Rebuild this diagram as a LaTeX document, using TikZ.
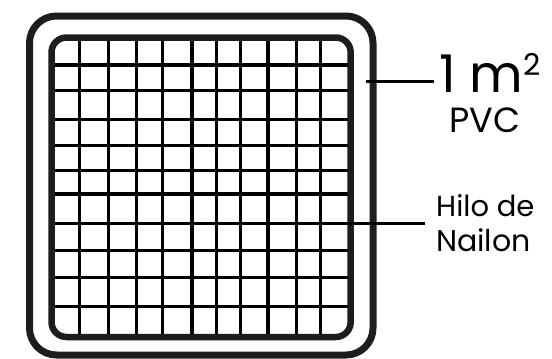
\documentclass[tikz,border=0pt]{standalone}
\usepackage{fontspec}
\setmainfont{Poppins}
\usetikzlibrary{positioning}

\definecolor{framegray}{HTML}{1D1D1B}

\tikzset{
  frame/.style={draw=framegray, rounded corners=#1},
  gridline/.style={line width=3.5pt, black},
  leader/.style={line width=3pt, black},
  label/.style={anchor=base west, inner sep=0pt}
}

\begin{document}
\begin{tikzpicture}[x=1pt,y=-1pt]
\useasboundingbox (0,0) rectangle (552,359);

% nylon grid:
\foreach \gx in {79.3,108.7,136.7,162.7,192,216.7,240.7,268,296.7,320.7}
  \draw[gridline] (\gx,37.5) -- (\gx,337);
\foreach \gy in {65,90.7,119.3,145.3,170.7,194,223.3,250.3,277.3,306.3}
  \draw[gridline] (51.5,\gy) -- (350.7,\gy);

% frames:
\draw[frame=15pt, line width=6.5pt] (51.5,37.5) rectangle (350.7,337);
\draw[frame=27pt, line width=7pt] (29.5,16) rectangle (373,355);

% labels:
\node[label] (area) at (439,92) {\fontsize{52}{52}\selectfont 1 m\raisebox{17pt}{\fontsize{30}{30}\selectfont 2}};
\node[label] (pvc) at (449,132.7) {\fontsize{35}{35}\selectfont PVC};
\node[label] (hilo) at (436,216) {\fontsize{29}{29}\selectfont Hilo de};
\node[label] (nailon) at (436,251.7) {\fontsize{30}{30}\selectfont Nailon};

% leaders:
\coordinate (pvcend) at (366,81);
\coordinate (hiloend) at (348,223.3);
\draw[leader] (pvcend) -- ([xshift=-5pt]pvcend -| area.west);
\draw[gridline] (hiloend) -- (425,223.3) coordinate (hilotip);

\end{tikzpicture}
\end{document}
